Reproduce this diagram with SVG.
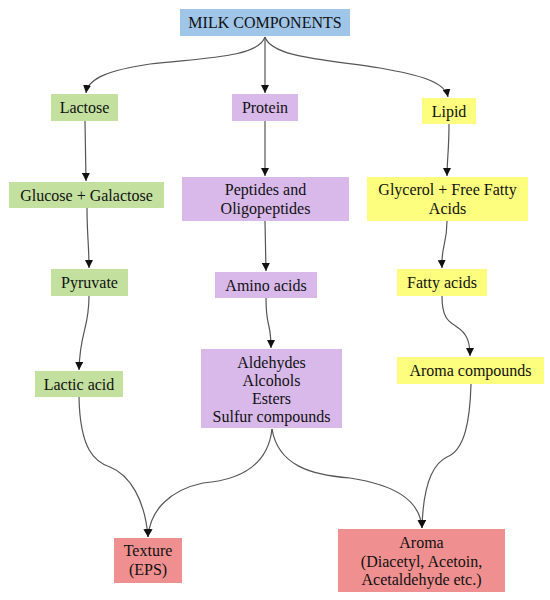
<svg xmlns="http://www.w3.org/2000/svg" width="550" height="600" viewBox="0 0 550 600">
<defs>
<marker id="ah" markerWidth="8" markerHeight="8" refX="8" refY="4" orient="auto" markerUnits="userSpaceOnUse">
<path d="M0,0 L8,4 L0,8 z" fill="#111"/>
</marker>
<style>
.t{font-family:"Liberation Serif","Times New Roman",serif;font-size:16px;fill:#111;text-anchor:middle}
.blue{fill:#9fc5e8}
.green{fill:#c3e09f}
.purple{fill:#d8b9ea}
.yellow{fill:#fdfd7e}
.red{fill:#ef8f8f}
.c{fill:none;stroke:#555;stroke-width:1.2;marker-end:url(#ah)}
</style>
</defs>
<rect width="550" height="600" fill="#fff"/>
<g id="connectors">
<path class="c" d="M265,37 C258,58 200,58 150,64 C110,70 88,78 86,93"/>
<path class="c" d="M265,37 L265,93"/>
<path class="c" d="M265,37 C272,58 330,60 380,68 C420,75 445,82 448,97"/>
<path class="c" d="M85,121 L86,181"/>
<path class="c" d="M265,121 L265,176"/>
<path class="c" d="M449,124 C449,150 447,160 447,176"/>
<path class="c" d="M87,208 C87,235 89,245 89,268"/>
<path class="c" d="M265,221 L266,271"/>
<path class="c" d="M447,221 C447,245 441,245 442,268"/>
<path class="c" d="M89,296 C89,330 80,330 79,370"/>
<path class="c" d="M266,298 C266,330 271,320 271,348"/>
<path class="c" d="M442,296 C442,320 450,322 457,327 C466,333 470,340 470,356"/>
<path class="c" d="M79,397 C80,450 95,462 110,467 C130,475 145,500 148,537"/>
<path class="c" d="M272,429 C268,465 240,480 203,483 C170,490 150,510 148,537"/>
<path class="c" d="M272,429 C278,465 310,475 350,478 C395,485 420,500 422,528"/>
<path class="c" d="M471,384 C470,420 465,450 447,457 C430,465 423,490 422,528"/>
</g>
<g id="milk"><rect class="blue" x="180" y="9" width="170" height="27"/><text class="t" x="265" y="28">MILK COMPONENTS</text></g>
<g id="lactose"><rect class="green" x="51" y="94" width="67" height="27"/><text class="t" x="84.5" y="113">Lactose</text></g>
<g id="protein"><rect class="purple" x="232" y="94" width="66" height="27"/><text class="t" x="265" y="113">Protein</text></g>
<g id="lipid"><rect class="yellow" x="422" y="98" width="54" height="26"/><text class="t" x="449" y="116.5">Lipid</text></g>
<g id="glucose"><rect class="green" x="9" y="182" width="155" height="26"/><text class="t" x="86.5" y="200.5">Glucose + Galactose</text></g>
<g id="peptides"><rect class="purple" x="182" y="177" width="167" height="44"/><text class="t" x="265.5" y="195">Peptides and</text><text class="t" x="265.5" y="213.5">Oligopeptides</text></g>
<g id="glycerol"><rect class="yellow" x="367" y="177" width="161" height="44"/><text class="t" x="447.5" y="195">Glycerol + Free Fatty</text><text class="t" x="447.5" y="213.5">Acids</text></g>
<g id="pyruvate"><rect class="green" x="51" y="269" width="77" height="27"/><text class="t" x="89.5" y="288">Pyruvate</text></g>
<g id="amino"><rect class="purple" x="215" y="272" width="102" height="26"/><text class="t" x="266" y="290.5">Amino acids</text></g>
<g id="fatty"><rect class="yellow" x="397" y="269" width="90" height="27"/><text class="t" x="442" y="288">Fatty acids</text></g>
<g id="lactic"><rect class="green" x="35" y="371" width="88" height="26"/><text class="t" x="79" y="389.5">Lactic acid</text></g>
<g id="aldehydes"><rect class="purple" x="201" y="349" width="141" height="79"/><text class="t" x="271.5" y="368">Aldehydes</text><text class="t" x="271.5" y="386">Alcohols</text><text class="t" x="271.5" y="404">Esters</text><text class="t" x="271.5" y="422">Sulfur compounds</text></g>
<g id="aromacomp"><rect class="yellow" x="397" y="357" width="147" height="27"/><text class="t" x="470.5" y="376">Aroma compounds</text></g>
<g id="texture"><rect class="red" x="114" y="538" width="68" height="45"/><text class="t" x="148" y="556">Texture</text><text class="t" x="148" y="574.5">(EPS)</text></g>
<g id="aroma"><rect class="red" x="338" y="529" width="167" height="63"/><text class="t" x="421.5" y="548">Aroma</text><text class="t" x="421.5" y="567">(Diacetyl, Acetoin,</text><text class="t" x="421.5" y="585">Acetaldehyde etc.)</text></g>
</svg>
